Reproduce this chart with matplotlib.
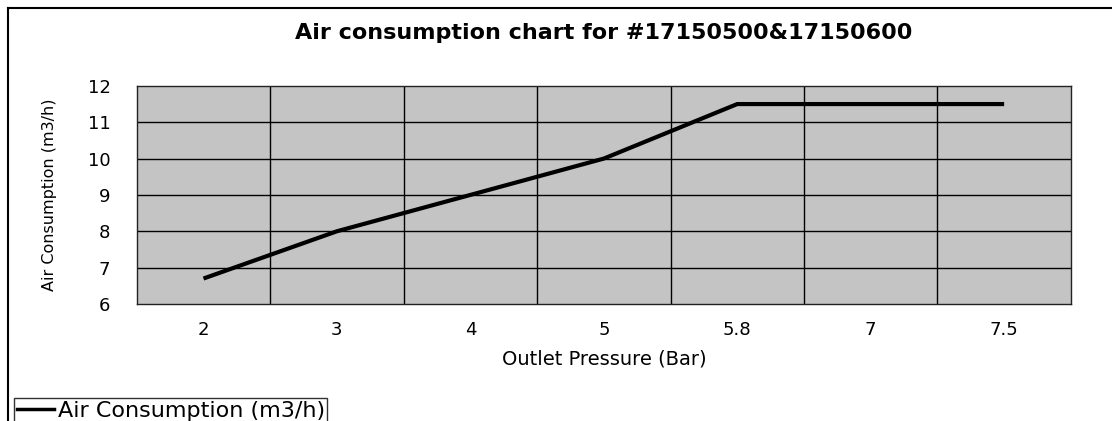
import matplotlib
matplotlib.use('Agg')
import matplotlib.pyplot as plt
from matplotlib.lines import Line2D

plt.rcParams['font.family'] = ['DejaVu Sans']

# outlet pressure categories and consumption values
pressure = ['2', '3', '4', '5', '5.8', '7', '7.5']
consumption = [6.7, 8.0, 9.0, 10.0, 11.5, 11.5, 11.5]
y_ticks = [6, 7, 8, 9, 10, 11, 12]

fig = plt.figure(figsize=(11.12, 4.21), dpi=100)
ax = fig.add_axes([0.123, 0.278, 0.840, 0.518])
ax.set_facecolor('#c4c4c4')

x = list(range(len(pressure)))
ax.plot(x, consumption, color='black', linewidth=3, solid_capstyle='butt')

ax.set_xlim(-0.5, len(pressure) - 0.5)
ax.set_ylim(6, 12)
ax.set_xticks(x)
ax.set_xticklabels(pressure, fontsize=13)
ax.set_yticks(y_ticks)
ax.set_yticklabels([str(v) for v in y_ticks], fontsize=13)
ax.tick_params(axis='x', length=0, pad=12)
ax.tick_params(axis='y', length=0, pad=19)

# gridlines: horizontal at each value, vertical between categories
for v in y_ticks[1:-1]:
    ax.axhline(v, color='black', linewidth=1)
for b in range(len(pressure) - 1):
    ax.axvline(b + 0.5, color='black', linewidth=1)
for s in ax.spines.values():
    s.set_color('#222222')
    s.set_linewidth(1)

ax.set_xlabel('Outlet Pressure (Bar)', fontsize=14, labelpad=8)
ax.set_ylabel('Air Consumption (m3/h)', fontsize=11.5, labelpad=22)
ax.set_title('Air consumption chart for #17150500&17150600',
             fontsize=16, fontweight='bold', pad=34)

# outer chart frame (left and top edges visible)
fig.add_artist(Line2D([0.007, 0.007], [0.0, 0.981], color='black', linewidth=1.5,
                      transform=fig.transFigure))
fig.add_artist(Line2D([0.007, 1.0], [0.981, 0.981], color='black', linewidth=1.5,
                      transform=fig.transFigure))

leg_handle = Line2D([], [], color='black', linewidth=2.5)
fig.legend([leg_handle], ['Air Consumption (m3/h)'], loc='lower left',
           bbox_to_anchor=(0.007, -0.02), fontsize=16, frameon=True,
           fancybox=False, edgecolor='black', handlelength=1.7,
           handletextpad=0.15, borderpad=0.1, borderaxespad=0.3)

fig.savefig('out.png', dpi=100)
